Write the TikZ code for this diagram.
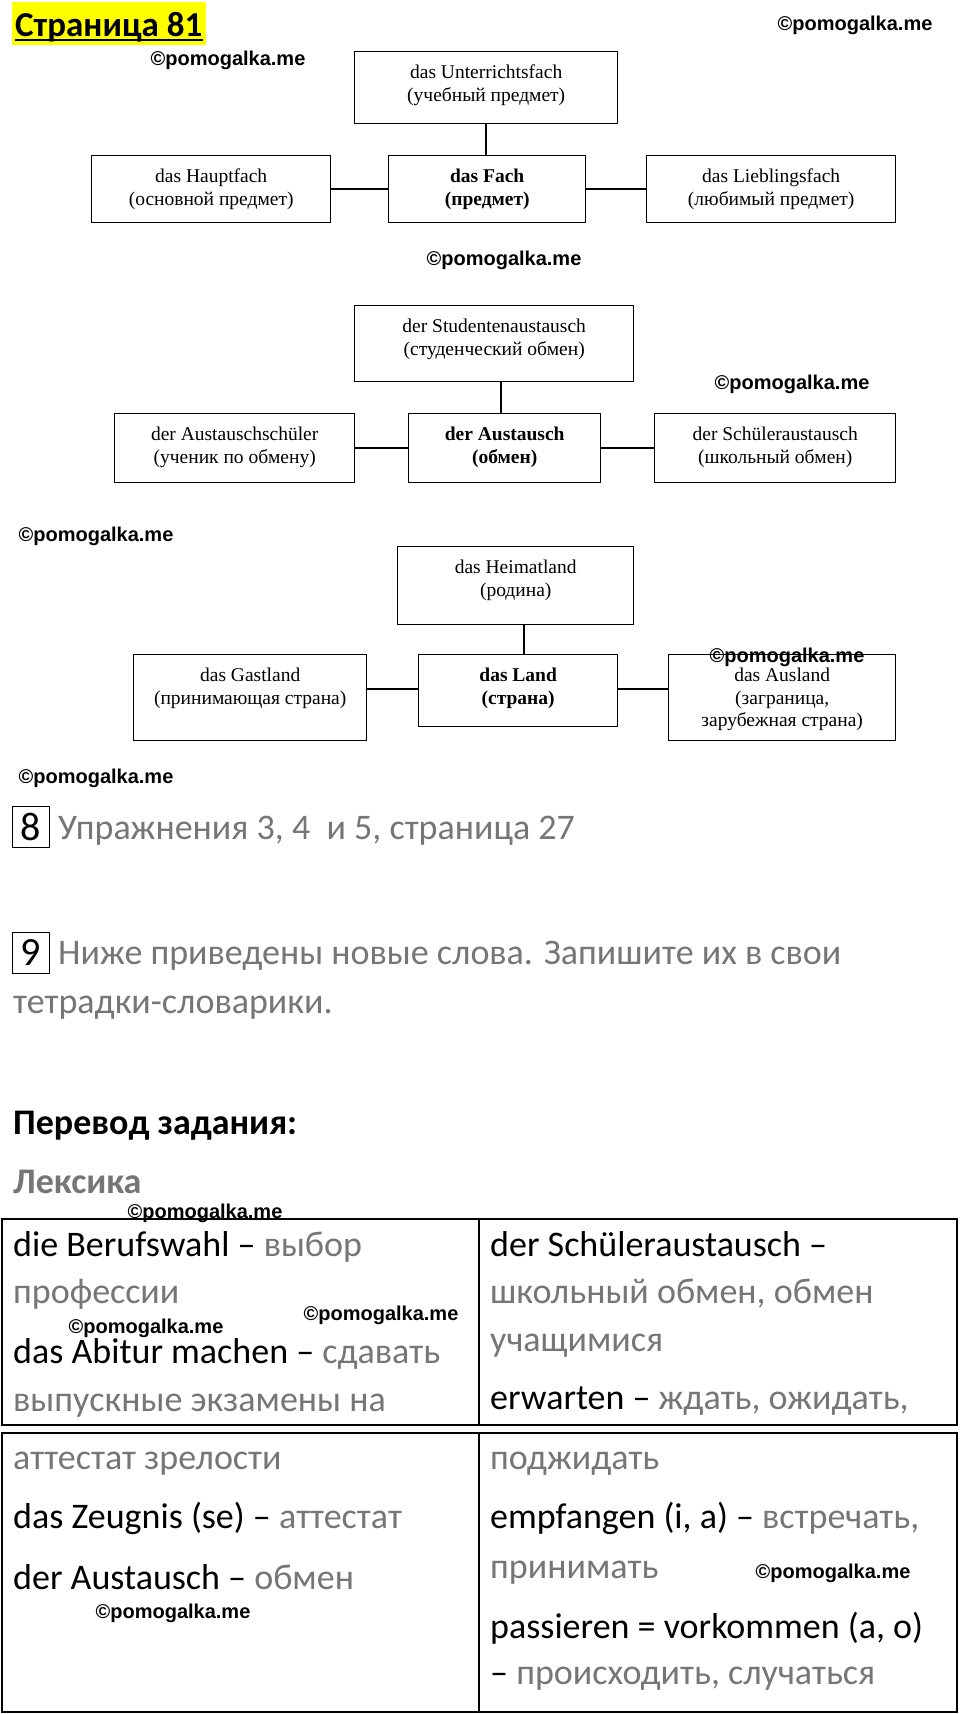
\documentclass[tikz,border=0pt]{standalone}
\usepackage{fontspec}
\setmainfont{Carlito}
\newfontfamily\tnr{Liberation Serif}
\newfontfamily\wmfont{Liberation Sans}
\usetikzlibrary{calc}
\definecolor{txtgray}{RGB}{118,118,118}
\definecolor{hl}{RGB}{255,255,0}
\newcommand{\dtext}[3]{\parbox[c][#2pt][t]{#1pt}{\centering\rule{0pt}{27pt}#3}}
\newcommand{\gr}[1]{\textcolor{txtgray}{#1}}
\begin{document}
\begin{tikzpicture}[x=1pt,y=-1pt,
  dbox/.style={draw, line width=1.4pt, inner sep=0pt, anchor=north west, font=\tnr\fontsize{19.5pt}{22.5pt}\selectfont},
  conn/.style={line width=1.6pt},
  wm/.style={font=\wmfont\bfseries\fontsize{20pt}{24pt}\selectfont, inner sep=0pt},
  body/.style={anchor=base west, inner sep=0pt, font=\fontsize{36pt}{43pt}\selectfont},
  numbox/.style={draw, line width=1.5pt, inner sep=0pt, minimum width=37pt, minimum height=41pt, font=\fontsize{40pt}{44pt}\selectfont},
  tbl/.style={line width=1.5pt}
]
\fill[white] (0,0) rectangle (960,1714);
\useasboundingbox (0,0) rectangle (960,1714);

% title
\fill[hl] (12,2) rectangle (206,45);
\node[anchor=base west, inner sep=0pt, font=\bfseries\fontsize{35pt}{42pt}\selectfont] (title) at (15,36) {Страница 81};
\draw[line width=2.4pt] (title.base west) ++(0,4) -- ++(188,0);

% diagram 1
\node[dbox] (u) at (354,51) {\dtext{263}{72}{das Unterrichtsfach\\(учебный предмет)}};
\node[dbox] (h) at (91,155) {\dtext{239}{67}{das Hauptfach\\(основной предмет)}};
\node[dbox] (f) at (388,155) {\dtext{197}{67}{\bfseries das Fach\\(предмет)}};
\node[dbox] (l) at (646,155) {\dtext{249}{67}{das Lieblingsfach\\(любимый предмет)}};
\draw[conn] (u.south) -- (u.south |- f.north);
\draw[conn] (h.east) -- (f.west);
\draw[conn] (f.east) -- (l.west);

% diagram 2
\node[dbox] (s) at (354,305) {\dtext{279}{76}{der Studentenaustausch\\(студенческий обмен)}};
\node[dbox] (a) at (114,413) {\dtext{240}{69}{der Austauschschüler\\(ученик по обмену)}};
\node[dbox] (c) at (408,413) {\dtext{192}{69}{\bfseries der Austausch\\(обмен)}};
\node[dbox] (r) at (654,413) {\dtext{241}{69}{der Schüleraustausch\\(школьный обмен)}};
\draw[conn] ([xshift=-4pt]c.north) -- ([xshift=-4pt]c.north |- s.south);
\draw[conn] (a.east) -- (c.west);
\draw[conn] (c.east) -- (r.west);

% diagram 3
\node[dbox] (hm) at (397,546) {\dtext{236}{78}{das Heimatland\\(родина)}};
\node[dbox] (g) at (133,654) {\dtext{233}{86}{das Gastland\\(принимающая страна)}};
\node[dbox] (ld) at (418,654) {\dtext{199}{72}{\bfseries das Land\\(страна)}};
\node[dbox] (au) at (668,654) {\dtext{227}{86}{das Ausland\\(заграница,\\зарубежная страна)}};
\draw[conn] ([xshift=6pt]ld.north) -- ([xshift=6pt]ld.north |- hm.south);
\draw[conn] ([yshift=2pt]ld.west) -- ([yshift=2pt]ld.west -| g.east);
\draw[conn] ([yshift=2pt]ld.east) -- ([yshift=2pt]ld.east -| au.west);

% exercises
\node[numbox] (n8) at (31,827) {8};
\node[body, text=txtgray] (e8) at (58,839) {Упражнения 3, 4\ \ и 5, страница 27};
\node[numbox] (n9) at (31,953) {9};
\node[body, text=txtgray] (e9a) at (58,964) {Ниже приведены новые слова. Запишите их в свои};
\node[body, text=txtgray] (e9b) at (13,1013) {тетрадки-словарики.};
\node[body, font=\bfseries\fontsize{36pt}{43pt}\selectfont] (tr) at (13,1134) {Перевод задания:};
\node[body, text=txtgray, font=\bfseries\fontsize{36pt}{43pt}\selectfont] (lex) at (13,1193) {Лексика};

% tables
\draw[tbl] (2,1219) rectangle (957,1425);
\draw[tbl] (479,1219) -- (479,1425);
\draw[tbl] (2,1433) rectangle (957,1712);
\draw[tbl] (479,1433) -- (479,1712);

\node[body] (l1) at (13,1256) {die Berufswahl – \gr{выбор}};
\node[body] (l2) at (13,1303) {\gr{профессии}};
\node[body] (l3) at (13,1363) {das Abitur machen – \gr{сдавать}};
\node[body] (l4) at (13,1411) {\gr{выпускные экзамены на}};
\node[body] (l5) at (13,1469) {\gr{аттестат зрелости}};
\node[body] (l6) at (13,1528) {das Zeugnis (se) – \gr{аттестат}};
\node[body] (l7) at (13,1589) {der Austausch – \gr{обмен}};

\node[body] (r1) at (490,1256) {der Schüleraustausch –};
\node[body] (r2) at (490,1303) {\gr{школьный обмен, обмен}};
\node[body] (r3) at (490,1351) {\gr{учащимися}};
\node[body] (r4) at (490,1409) {erwarten – \gr{ждать, ожидать,}};
\node[body] (r5) at (490,1469) {\gr{поджидать}};
\node[body] (r6) at (490,1528) {empfangen (i, a) – \gr{встречать,}};
\node[body] (r7) at (490,1578) {\gr{принимать}};
\node[body] (r8) at (490,1638) {passieren = vorkommen (a, o)};
\node[body] (r9) at (490,1684) {– \gr{происходить, случаться}};

% watermarks
\node[wm] (w1) at (855,25) {©pomogalka.me};
\node[wm] (w2) at (228,60) {©pomogalka.me};
\node[wm] (w3) at (504,260) {©pomogalka.me};
\node[wm] (w4) at (792,384) {©pomogalka.me};
\node[wm] (w5) at (96,536) {©pomogalka.me};
\node[wm] (w6) at (787,657) {©pomogalka.me};
\node[wm] (w7) at (96,778) {©pomogalka.me};
\node[wm] (w8) at (205,1213) {©pomogalka.me};
\node[wm] (w9) at (381,1315) {©pomogalka.me};
\node[wm] (w10) at (146,1328) {©pomogalka.me};
\node[wm] (w11) at (833,1573) {©pomogalka.me};
\node[wm] (w12) at (173,1613) {©pomogalka.me};
\end{tikzpicture}
\end{document}
